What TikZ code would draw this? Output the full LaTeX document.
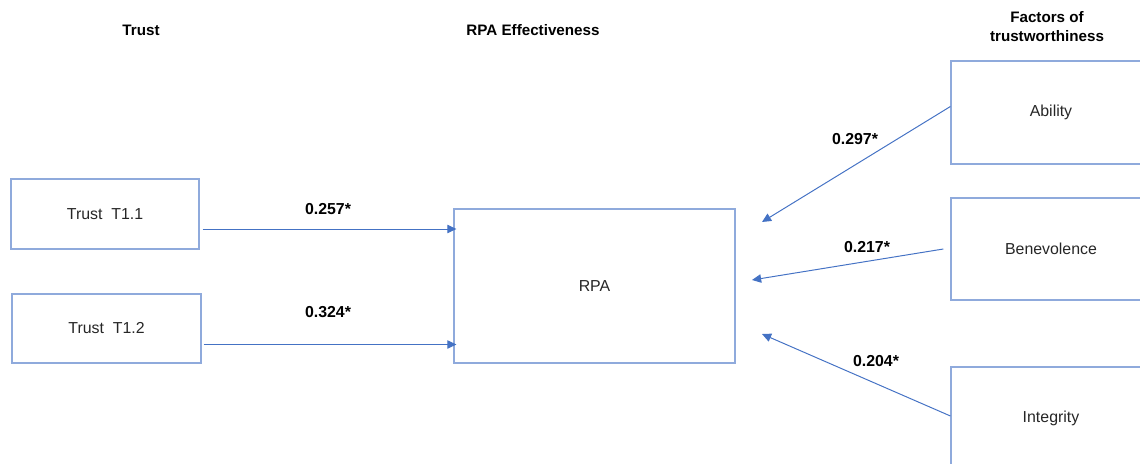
\documentclass[tikz,border=0pt]{standalone}
\usepackage{fontspec}
\setmainfont{Liberation Sans}
\usepackage{xcolor}
\usetikzlibrary{arrows.meta}
\definecolor{boxCol}{HTML}{8FAADC}
\definecolor{linkCol}{HTML}{4472C4}
\definecolor{textCol}{HTML}{262626}

\tikzset{
  factor/.style={draw=boxCol, line width=0.8pt, inner sep=0pt, text=textCol,
    font=\fontsize{11.3}{13.5}\selectfont},
  heading/.style={font=\fontsize{10.8}{13.5}\selectfont\bfseries, align=center},
  weight/.style={font=\fontsize{11.3}{13.5}\selectfont\bfseries},
  link/.style={draw=linkCol, line width=0.7pt, -{Triangle[length=6.5pt,width=6pt]}}
}

\begin{document}
\begin{tikzpicture}[x=0.025cm, y=-0.025cm]
%--------------------------------------------------
\useasboundingbox (0,0) rectangle (1140,464);
\clip (0,0) rectangle (1140,464);

% column headings
\node[heading] (hTrust) at (141,30) {Trust};
\node[heading] (hRPA) at (533,30) {RPA Effectiveness};
\node[heading] (hFactors) at (1047,27) {Factors of\\trustworthiness};

% trust boxes on the left
\node[factor, minimum width=4.7cm, minimum height=1.75cm] (t11) at (105,214) {Trust\ \ T1.1};
\node[factor, minimum width=4.725cm, minimum height=1.725cm] (t12) at (106.5,328.5) {Trust\ \ T1.2};

% RPA box in the middle
\node[factor, minimum width=7.025cm, minimum height=3.85cm] (rpa) at (594.5,286) {RPA};

% factor boxes on the right
\node[factor, minimum width=5cm, minimum height=2.575cm] (ability) at (1051,112.5) {Ability};
\node[factor, minimum width=5cm, minimum height=2.55cm] (benev) at (1051,249) {Benevolence};
\node[factor, minimum width=5cm, minimum height=2.55cm] (integ) at (1051,418) {Integrity};

% free ends of the arrows next to RPA
\coordinate (s1) at ([xshift=0.075cm,yshift=-0.375cm]t11.east);
\coordinate (s2) at ([xshift=0.05cm,yshift=-0.4cm]t12.east);
\coordinate (p1) at (762,222);
\coordinate (p2) at (752,280);
\coordinate (p3) at (762,334);

% arrows from trust to RPA
\draw[link] (s1) -- ([xshift=0.075cm]s1 -| rpa.west);
\draw[link] (s2) -- ([xshift=0.075cm]s2 -| rpa.west);

% arrows from the factors
\draw[link] ([yshift=0.15cm]ability.west) -- (p1);
\draw[link] ([xshift=-0.175cm]benev.west) -- (p2);
\draw[link] ([yshift=0.05cm]integ.west) -- (p3);

% path weights
\node[weight] (w1) at (328,209) {0.257*};
\node[weight] (w2) at (328,312) {0.324*};
\node[weight] (w3) at (855,139) {0.297*};
\node[weight] (w4) at (867,247) {0.217*};
\node[weight] (w5) at (876,361) {0.204*};

%--------------------------------------------------
\end{tikzpicture}
\end{document}
